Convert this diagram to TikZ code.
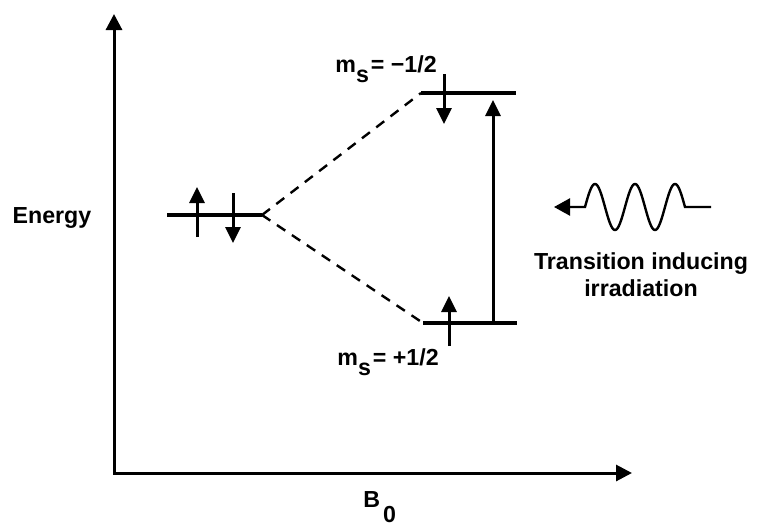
\documentclass[tikz,border=0pt]{standalone}
\usepackage{fontspec}
\setmainfont{Liberation Sans}
\usetikzlibrary{arrows.meta,positioning,calc}
\newcommand\lowsub[2][-0.47em]{\raisebox{#1}{#2}}

\begin{document}
\begin{tikzpicture}[x=0.5pt,y=-0.5pt,
    font=\fontsize{11.6}{13.5}\selectfont\bfseries,
    axis/.style={line width=1.5pt,{Triangle[length=8pt,width=8pt]}-{Triangle[length=8pt,width=8pt]}},
    level/.style={line width=2pt},
    spin/.style={line width=1.5pt,-{Triangle[length=8pt,width=7.5pt]}},
    split/.style={line width=1.2pt,dash pattern=on 5pt off 4pt},
    txt/.style={inner sep=0pt}]
  \useasboundingbox (0,0) rectangle (762,525);

  \coordinate (origin) at (114,473);
  \coordinate (ytip) at (114,14);
  \coordinate (xtip) at (632,473);
  \draw[axis] (ytip) -- (origin) -- (xtip);
  \node[txt] (energy) at (52,218) {Energy};
  \node[txt,anchor=base west] (bfield) at (363,507) {B\kern1.5pt\lowsub[-7.5pt]{0}};

  \coordinate (base L) at (167,215);
  \coordinate (base R) at (262,215);
  \coordinate (upper L) at (421,93);
  \coordinate (upper R) at (516,93);
  \coordinate (lower L) at (423,323);
  \coordinate (lower R) at (517,323);
  \draw[level] (base L) -- (base R);
  \draw[level] (upper L) -- (upper R);
  \draw[level] (lower L) -- (lower R);
  \draw[split] (base R) -- (upper L);
  \draw[split] (base R) -- (lower L);

  \draw[spin] ($(base L)+(30,22)$) -- ++(0,-50);
  \draw[spin] ($(base L)+(66,-22)$) -- ++(0,50);
  \draw[spin] ($(upper L)+(23,-19)$) -- ++(0,50);
  \draw[spin] ($(lower L)+(26,23)$) -- ++(0,-50);

  \coordinate (tr bot) at (493,323);
  \coordinate (tr top) at (493,100);
  \draw[spin] (tr bot) -- (tr top);

  \node[txt,anchor=base west] (minus) at (335,72) {m\lowsub{s}\kern1pt= −1/2};
  \node[txt,anchor=base west] (plus) at (337,365) {m\lowsub{s}\kern1pt= +1/2};

  \coordinate (wave R) at (711,207);
  \coordinate (wave L) at (554,207);
  \draw[line width=1.2pt,-{Triangle[length=8pt,width=8.5pt]}]
    (wave R) -- (685,207) -- plot[domain=685:585,samples=120] (\x,{207-23*sin(9*(\x-585))}) -- (wave L);
  \node[txt,align=center] (irr) at (641,275) {Transition inducing\\irradiation};
\end{tikzpicture}
\end{document}
